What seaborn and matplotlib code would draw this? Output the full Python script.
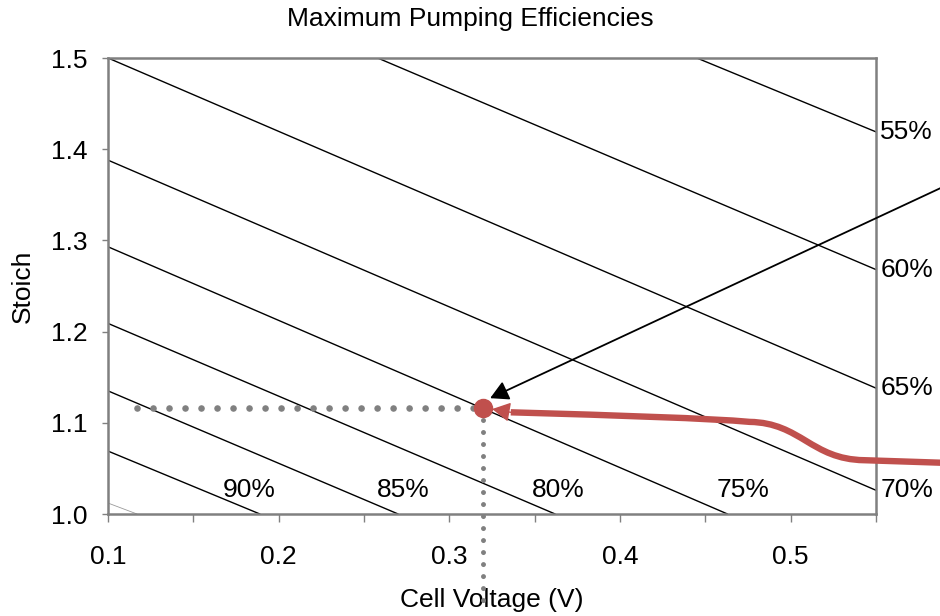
import numpy as np
import pandas as pd
import matplotlib
matplotlib.use("Agg")
import matplotlib.pyplot as plt
import seaborn as sns
from matplotlib.path import Path
from matplotlib.patches import PathPatch

# ---------------- data ----------------
efficiency = ["55%", "60%", "65%", "70%", "75%", "80%", "85%", "90%", "95%"]
# each iso-efficiency line: where it enters and leaves the plot frame
v_start = [0.445, 0.258, 0.100, 0.100, 0.100, 0.100, 0.100, 0.100, 0.100]
s_start = [1.500, 1.500, 1.500, 1.388, 1.293, 1.209, 1.135, 1.069, 1.012]
v_end = [0.550, 0.550, 0.550, 0.550, 0.463, 0.362, 0.270, 0.189, 0.117]
s_end = [1.419, 1.268, 1.138, 1.026, 1.000, 1.000, 1.000, 1.000, 1.000]

right_labels = ["55%", "60%", "65%", "70%"]
bottom_labels = ["90%", "85%", "80%", "75%"]
bottom_label_v = [0.183, 0.273, 0.364, 0.472]
bottom_label_s = 1.019

x_major = [0.1, 0.2, 0.3, 0.4, 0.5]
x_minor = [0.15, 0.25, 0.35, 0.45, 0.55]
y_ticks = [1.0, 1.1, 1.2, 1.3, 1.4, 1.5]
x_tick_labels = ["0.1", "0.2", "0.3", "0.4", "0.5"]
y_tick_labels = ["1.0", "1.1", "1.2", "1.3", "1.4", "1.5"]

operating_v = 0.320
operating_s = 1.116
guide_v_start = 0.117
guide_s_floor = 0.898

# black annotation arrow (from outside the figure to the point)
black_from = (0.600, 1.368)
black_to = (0.3239, 1.127)
# red annotation curve
red_curve_v = [0.600, 0.543, 0.512, 0.506, 0.476, 0.452, 0.400, 0.336]
red_curve_s = [1.0555, 1.059, 1.060, 1.100, 1.101, 1.105, 1.108, 1.1115]
red_tip = (0.3251, 1.1151)

title = "Maximum Pumping Efficiencies"
xlabel = "Cell Voltage (V)"
ylabel = "Stoich"

# ---------------- styling ----------------
sns.set_theme(style="white")
plt.rcParams["font.family"] = ["Liberation Sans", "DejaVu Sans"]
plt.rcParams["text.color"] = "black"
plt.rcParams["axes.labelcolor"] = "black"
plt.rcParams["xtick.color"] = "black"
plt.rcParams["ytick.color"] = "black"
FS = 19
RED = "#C0504D"
GRAY = "#808080"

rows = []
for e, v0, s0, v1, s1 in zip(efficiency, v_start, s_start, v_end, s_end):
    rows.append({"eff": e, "Cell Voltage": v0, "Stoich": s0})
    rows.append({"eff": e, "Cell Voltage": v1, "Stoich": s1})
df = pd.DataFrame(rows)
palette = {e: ("#9a9a9a" if e == "95%" else "black") for e in efficiency}

fig = plt.figure(figsize=(9.4, 6.16), dpi=100)
ax = fig.add_axes([108 / 940, 1 - 514 / 616, (876 - 108) / 940, (514 - 58) / 616])

sns.lineplot(data=df, x="Cell Voltage", y="Stoich", hue="eff", units="eff",
             estimator=None, palette=palette, linewidth=1.0, legend=False,
             sort=False, ax=ax)
for line in ax.lines:
    if matplotlib.colors.to_hex(line.get_color()) == "#9a9a9a":
        line.set_linewidth(0.6)

ax.set_xlim(0.1, 0.55)
ax.set_ylim(1.0, 1.5)
ax.set_xticks(x_major)
ax.set_xticklabels(x_tick_labels)
ax.set_xticks(x_minor, minor=True)
ax.set_yticks(y_ticks)
ax.set_yticklabels(y_tick_labels)
ax.tick_params(axis="x", which="both", direction="out", length=6, width=1,
               color=GRAY, labelcolor="black", labelsize=FS, pad=16, bottom=True)
ax.tick_params(axis="y", direction="out", length=4.5, width=1, color=GRAY,
               labelcolor="black", labelsize=FS, pad=10, left=True)
for sp in ax.spines.values():
    sp.set_visible(True)
    sp.set_color(GRAY)
    sp.set_linewidth(1.8)

ax.set_xlabel(xlabel, fontsize=FS, labelpad=14, color="black")
ax.set_ylabel(ylabel, fontsize=FS, labelpad=12, color="black")
fig.text(0.5, 1 - 19 / 616, title, ha="center", va="center", fontsize=FS,
         color="black")

# right-side labels at line ends
for lab in right_labels:
    i = efficiency.index(lab)
    ax.annotate(lab, xy=(v_end[i], s_end[i]), xytext=(3, 0),
                textcoords="offset points", ha="left", va="center",
                fontsize=FS, color="black", annotation_clip=False)
for lab, v in zip(bottom_labels, bottom_label_v):
    ax.text(v, bottom_label_s, lab, ha="center", va="baseline", fontsize=FS,
            color="black")

# dotted guide lines
ax.plot([guide_v_start, operating_v], [operating_s, operating_s], color=GRAY,
        lw=4.8, linestyle=(0, (0.001, 2.4)), dash_capstyle="round",
        zorder=3)
ax.plot([operating_v, operating_v], [operating_s, guide_s_floor], color=GRAY,
        lw=3.6, linestyle=(0, (0.001, 2.4)), dash_capstyle="round",
        clip_on=False, zorder=3)

# red curve
verts = list(zip(red_curve_v, red_curve_s))
codes = [Path.MOVETO, Path.LINETO, Path.CURVE4, Path.CURVE4, Path.CURVE4,
         Path.CURVE4, Path.CURVE4, Path.CURVE4]
red_path = PathPatch(Path(verts, codes), facecolor="none", edgecolor=RED,
                     lw=4.6, capstyle="butt", joinstyle="round",
                     clip_on=False, zorder=4)
ax.add_patch(red_path)
ax.annotate("", xy=red_tip, xytext=(red_curve_v[-1], red_curve_s[-1]),
            arrowprops=dict(arrowstyle="-|>,head_length=0.55,head_width=0.3",
                            color=RED, lw=1, mutation_scale=20,
                            shrinkA=0, shrinkB=0),
            annotation_clip=False, zorder=4)

# black arrow
ax.annotate("", xy=black_to, xytext=black_from,
            arrowprops=dict(arrowstyle="-|>,head_length=0.55,head_width=0.3",
                            color="black", lw=1.3, mutation_scale=20,
                            shrinkA=0, shrinkB=0),
            annotation_clip=False, zorder=4)

# operating point
ax.plot([operating_v], [operating_s], "o", ms=13, color=RED, mec=RED,
        clip_on=False, zorder=6)

fig.savefig("out.png", dpi=100)
